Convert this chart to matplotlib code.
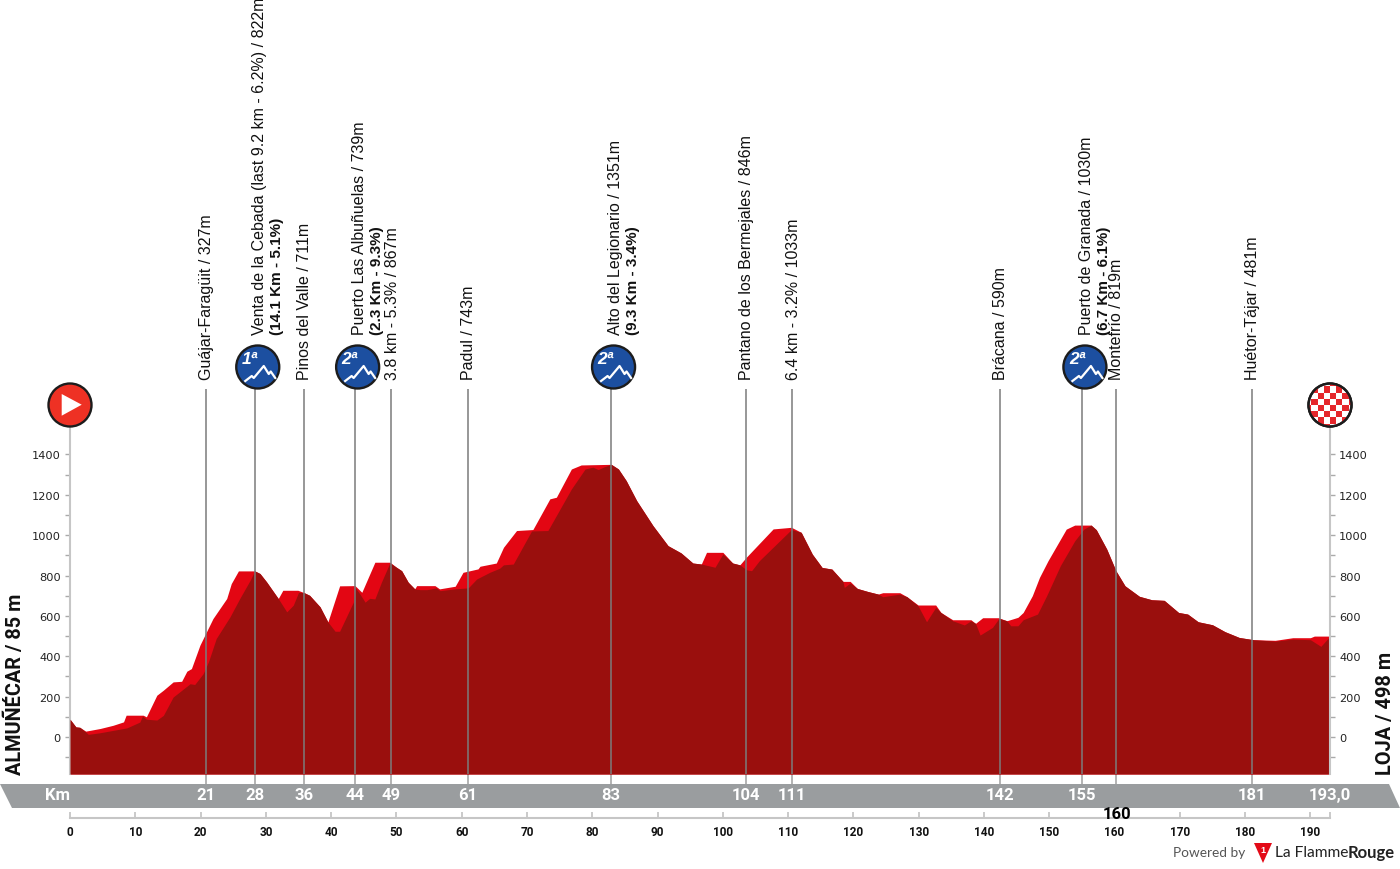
import matplotlib
matplotlib.use('Agg')
import matplotlib.pyplot as plt
from matplotlib.patches import Circle, Polygon, Rectangle

# real elevation (bright edge of the profile)
top_km = [0, 0.9, 1.5, 2.4, 4.6, 6.6, 8.2, 8.6, 11.2, 11.7, 13.3, 14.3, 15.8, 17.1, 17.9, 18.6, 19.9, 20.9,
          21.9, 24, 24.7, 25.8, 28.3, 29.1, 30.1, 31.9, 32.6, 34.9, 35.8, 36.7, 38.3, 39.5, 41.3, 43.65, 44.7,
          46.7, 49, 50, 50.8, 51.8, 52.8, 53.1, 55.9, 56.6, 59, 60.2, 62.5, 62.8, 65.3, 66.4, 68.4, 70.9,
          73.5, 74.5, 76.8, 78.3, 82.9, 84, 85.2, 86.8, 89.3, 91.6, 93.6, 95.4, 96.7, 97.5, 100, 101.5,
          102.6, 103.6, 107.7, 110.5, 112, 113.7, 115.2, 116.7, 118.4, 119.5, 120.6, 122.2, 123.8, 124.5,
          127.1, 128.2, 129.9, 132.6, 133.4, 135.2, 138, 138.7, 139.8, 142.2, 143.5, 145.2, 146, 147.4,
          148.5, 149.8, 152.6, 153.9, 156.4, 157.2, 158.8, 160.2, 161.6, 163.8, 165.7, 167.6, 169.8, 171.2,
          172.8, 175, 176.9, 179.1, 181.3, 184.6, 187.3, 190, 190.6, 193]
top_m = [88, 50, 48, 29, 42, 58, 75, 108, 108, 100, 207, 232, 273, 276, 326, 339, 455, 521,
         587, 686, 760, 823, 823, 810, 769, 686, 727, 727, 716, 702, 645, 570, 749, 750, 717,
         866, 866, 841, 824, 767, 734, 750, 750, 734, 747, 816, 833, 846, 862, 940, 1023, 1028,
         1180, 1188, 1328, 1348, 1351, 1328, 1270, 1171, 1047, 948, 912, 862, 857, 915, 915, 862,
         853, 891, 1031, 1039, 1014, 906, 840, 832, 771, 771, 736, 721, 708, 715,
         715, 695, 654, 654, 617, 581, 581, 563, 591, 591, 576, 593, 617, 700,
         791, 873, 1030, 1050, 1050, 1027, 931, 824, 749, 697, 680, 677, 617, 609,
         571, 556, 522, 493, 482, 479, 492, 492, 500, 500]

# front face of the profile (dark)
front_km = [0, 0.9, 1.5, 2.4, 2.8, 4.6, 8.7, 10.7, 11.1, 11.7, 13.3, 14.3, 15.8, 17.1, 18.4, 19.1, 20.4, 21.2,
            22.4, 24.5, 26, 27.6, 28.3, 29.1, 30.1, 31.9, 33.2, 34.2, 35, 35.8, 36.7, 38.3, 39.5, 40.6, 41.3,
            43.4, 43.65, 44.4, 45.2, 45.9, 46.7, 47.7, 49, 50, 50.8, 51.8, 52.8, 53.6, 54.7, 56.1, 56.7, 59,
            61, 62.3, 64.3, 65.8, 66.4, 67.9, 70.7, 73.2, 76.8, 78.9, 80.1, 80.9, 81.7, 82.9, 84, 85.2, 86.8,
            89.3, 91.6, 93.6, 95.4, 96.7, 98.8, 100, 101.5, 102.6, 103.6, 104.4, 105.6, 110.5, 112, 113.7,
            115.2, 116.7, 118.4, 118.6, 119.5, 120.6, 122.2, 123.8, 124.5, 127.1, 128.2, 129.9, 131.2, 132.6,
            133.4, 135.2, 137, 138, 138.7, 139.4, 141.3, 142.3, 143.5, 144.1, 145.2, 146, 148.2, 149.6, 151.7,
            153.9, 155.3, 156.4, 157.2, 158.8, 160.2, 161.6, 163.8, 165.7, 167.6, 169.8, 171.2, 172.8, 175,
            176.9, 179.1, 181.3, 184.6, 187.3, 190, 191.6, 193]
front_m = [88, 50, 48, 25, 13, 21, 45, 74, 104, 88, 84, 107, 198, 231, 264, 260, 314, 372,
           488, 595, 686, 777, 823, 810, 769, 686, 620, 653, 716, 716, 702, 645, 570, 524, 524,
           668, 742, 709, 668, 687, 684, 767, 863, 841, 824, 767, 734, 730, 730, 739, 725, 734,
           739, 783, 816, 836, 853, 857, 1021, 1023, 1229, 1328, 1337, 1325, 1337, 1351, 1328, 1270, 1171,
           1047, 948, 912, 862, 857, 841, 907, 862, 853, 829, 824, 874, 1028, 1014, 906,
           840, 832, 771, 741, 763, 736, 721, 708, 695, 708, 695, 650, 571, 642,
           617, 576, 555, 576, 563, 505, 543, 588, 576, 551, 551, 581, 609, 700, 849,
           972, 1030, 1050, 1027, 931, 824, 749, 697, 680, 677, 617, 609, 571, 556,
           522, 493, 482, 475, 485, 482, 449, 500]

# km of the vertical lines, and what stands in the grey strip
line_km = [20.8, 28.3, 35.8, 43.6, 49.2, 60.9, 82.8, 103.5, 110.6, 142.4, 155, 160.2, 181]
strip_labels = ['21', '28', '36', '44', '49', '61', '83', '104', '111', '142', '155', '', '181']

names = ['Guájar-Faragüit / 327m',
         'Venta de la Cebada (last 9.2 km - 6.2%) / 822m',
         'Pinos del Valle / 711m',
         'Puerto Las Albuñuelas / 739m',
         '3.8 km - 5.3% / 867m',
         'Padul / 743m',
         'Alto del Legionario / 1351m',
         'Pantano de los Bermejales / 846m',
         '6.4 km - 3.2% / 1033m',
         'Brácana / 590m',
         'Puerto de Granada / 1030m',
         'Montefrío / 819m',
         'Huétor-Tájar / 481m']
climb_km = [28.3, 43.6, 82.8, 155]
climb_cat = ['1ª', '2ª', '2ª', '2ª']
climb_stats = ['(14.1 Km - 5.1%)', '(2.3 Km - 9.3%)', '(9.3 Km - 3.4%)', '(6.7 Km - 6.1%)']

DARK = '#9a0f0d'
BRIGHT = '#e30613'
BOLD_FONT = ['Roboto', 'DejaVu Sans']
LOGO_FONT = ['Lato', 'DejaVu Sans']

plt.rcParams['font.family'] = ['Liberation Sans', 'DejaVu Sans']

W, H = 1400, 870
M_PER_PX = 4.955
PX_PER_KM = 1260 / 193


def add_axes_px(x0, y0, x1, y1):
    # y measured from the top of the picture
    return fig.add_axes([x0 / W, 1 - y1 / H, (x1 - x0) / W, (y1 - y0) / H])


fig = plt.figure(figsize=(14, 8.7), dpi=100)

# page overlay, in pixels, for the strip, badges and logo
page = fig.add_axes([0, 0, 1, 1])
page.set_xlim(0, W)
page.set_ylim(H, 0)
page.axis('off')

page.add_patch(Polygon([(0, 785), (1389, 785), (1400, 809), (12, 809)], color='#9a9d9f', lw=0))

ax = add_axes_px(70, 390, 1330, 775)
ax.patch.set_alpha(0)
ymin, ymax = -37 * M_PER_PX, 348 * M_PER_PX
ax.set_xlim(0, 193)
ax.set_ylim(ymin, ymax)
ax.fill_between(top_km, top_m, ymin, color=BRIGHT, lw=0, zorder=2)
ax.fill_between(front_km, front_m, ymin, color=DARK, lw=0, zorder=3)

ax.vlines(line_km, ymin, ymax, color='#7b7b7b', lw=1.3, alpha=0.85, zorder=4)
ax.vlines(line_km, ymin - 10 * M_PER_PX, ymin, color='#aeaeae', lw=1.3, zorder=1, clip_on=False)

for side in ['top', 'bottom', 'right']:
    ax.spines[side].set_visible(False)
ax.spines['left'].set_color('#c6c6c6')
ax.spines['left'].set_linewidth(1.5)
ax.spines['left'].set_bounds(ymin, 1536)
ax.set_xticks([])
ax.set_yticks(range(0, 1401, 200))
ax.set_yticks(range(-100, 1401, 200), minor=True)
ax.tick_params(axis='y', which='both', length=3.5, width=1, color='#aaaaaa', labelsize=8.2,
               labelcolor='#222222', pad=3)
for t in ax.get_yticklabels():
    t.set_family('DejaVu Sans')

ax2 = ax.twinx()
ax2.patch.set_alpha(0)
ax2.set_ylim(ymin, ymax)
for side in ['top', 'bottom', 'left']:
    ax2.spines[side].set_visible(False)
ax2.spines['right'].set_color('#c6c6c6')
ax2.spines['right'].set_linewidth(1.5)
ax2.spines['right'].set_bounds(ymin, 1536)
ax2.set_yticks(range(0, 1401, 200))
ax2.set_yticks(range(-100, 1401, 200), minor=True)
ax2.tick_params(axis='y', which='both', length=3.5, width=1, color='#aaaaaa', labelsize=8.2,
                labelcolor='#222222', pad=3)
for t in ax2.get_yticklabels():
    t.set_family('DejaVu Sans')

# km ruler under the strip
km_ax = add_axes_px(70, 813, 1330, 819)
km_ax.patch.set_alpha(0)
km_ax.set_xlim(0, 193)
km_ax.set_yticks([])
for side in ['top', 'left', 'right']:
    km_ax.spines[side].set_visible(False)
km_ax.spines['bottom'].set_color('#c6c6c6')
km_ax.spines['bottom'].set_linewidth(1.5)
km_ax.set_xticks(list(range(0, 191, 10)) + [193])
km_ax.set_xticklabels([str(k) for k in range(0, 191, 10)] + [''])
km_ax.tick_params(axis='x', direction='in', length=4.5, width=1.3, color='#c6c6c6', pad=5,
                  labelsize=8.5, labelcolor='#111111')
for t in km_ax.get_xticklabels():
    t.set_family(BOLD_FONT)
    t.set_weight('bold')

# labels in the grey strip
for km, lab in zip(line_km, strip_labels):
    px = 70 + km * PX_PER_KM
    page.text(px, 796, lab, color='white', fontsize=12, weight='bold', family=BOLD_FONT, ha='center', va='center')
page.text(58, 796, 'Km', color='white', fontsize=12, weight='bold', family=BOLD_FONT, ha='center', va='center')
page.text(1330, 796, '193,0', color='white', fontsize=12, weight='bold', family=BOLD_FONT, ha='center', va='center')
page.text(1117, 815, '160', color='black', fontsize=12, weight='bold', family=BOLD_FONT, ha='center', va='center',
          zorder=6)

# rotated place names
for km, name in zip(line_km, names):
    is_climb = km in climb_km
    dx, dy = (5, 55) if is_climb else (1, 10)
    ax.annotate(name, xy=(km, ymax), xycoords='data', xytext=(dx, dy), textcoords='offset pixels',
                rotation=90, ha='center', va='bottom', fontsize=11.5, color='#111111',
                annotation_clip=False)
for km, stats in zip(climb_km, climb_stats):
    ax.annotate(stats, xy=(km, ymax), xycoords='data', xytext=(22, 55), textcoords='offset pixels',
                rotation=90, ha='center', va='bottom', fontsize=11, weight='bold', color='#111111',
                annotation_clip=False)


def badge(cx, cy, colour):
    c = Circle((cx, cy), 21.5, facecolor=colour, edgecolor='#1c1c1c', lw=1.7, zorder=5)
    page.add_patch(c)
    return c


# climb badges, over the lines
page.set_zorder(5)
ridge = [(-12.5, 14), (-6, 9), (-4, 11), (6, -1), (11, 7), (13, 4.5), (17.5, 11)]
for km, cat in zip(climb_km, climb_cat):
    cx = 70 + km * PX_PER_KM + 3
    badge(cx, 368, '#1c4fa0')
    page.plot([cx + p[0] for p in ridge], [368 + p[1] for p in ridge], color='white', lw=1.6, zorder=6)
    page.text(cx - 8, 360, cat, color='white', fontsize=12.5, weight='bold', style='italic',
              ha='center', va='center', zorder=6)

# start
badge(70, 406, '#ee3124')
page.add_patch(Polygon([(61.7, 395), (81.7, 405.7), (61.7, 416.7)], color='white', lw=0, zorder=6))

# finish
clip = badge(1330, 406, 'white')
size = 6.2
for i in range(-4, 4):
    for j in range(-4, 4):
        if (i + j) % 2 == 0:
            sq = Rectangle((1330 + i * size, 406 + j * size), size, size, color='#e5262b', lw=0, zorder=5.5)
            page.add_patch(sq)
            sq.set_clip_path(clip)
page.add_patch(Circle((1330, 406), 21.5, fill=False, edgecolor='#1c1c1c', lw=1.7, zorder=6))

# end names
page.text(15, 775, 'ALMUÑÉCAR / 85 m', rotation=90, fontsize=14.3, weight='bold', family=BOLD_FONT,
          ha='center', va='bottom', color='#111111')
page.text(1386, 775, 'LOJA / 498 m', rotation=90, fontsize=14.3, weight='bold', family=BOLD_FONT,
          ha='center', va='bottom', color='#111111')

# logo
page.text(1173, 853, 'Powered by', fontsize=9.8, color='#555555', family=LOGO_FONT, ha='left', va='center')
page.add_patch(Polygon([(1254, 844), (1272, 844), (1263, 864)], color='#e30a17', lw=0))
page.text(1263, 851, '1', fontsize=6.5, color='white', weight='bold', ha='center', va='center')
page.text(1348, 853, 'La Flamme', fontsize=11.2, color='#222222', family=LOGO_FONT, ha='right', va='center')
page.text(1348, 853, 'Rouge', fontsize=12, color='#222222', weight='bold', family=LOGO_FONT, ha='left', va='center')

fig.savefig('out.png', dpi=100)
